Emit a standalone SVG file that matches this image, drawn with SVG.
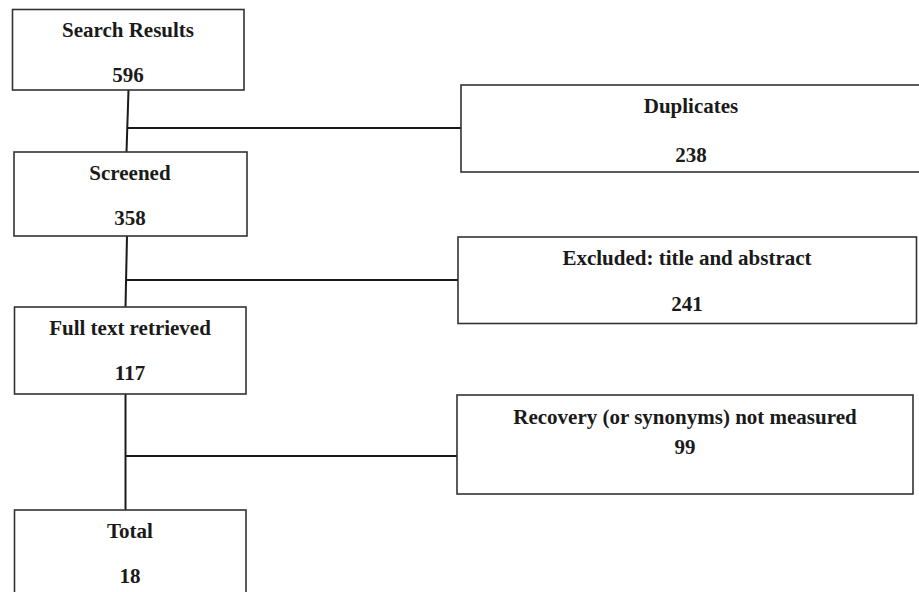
<svg xmlns="http://www.w3.org/2000/svg" width="919" height="592" viewBox="0 0 919 592">
<style>
.box{fill:#fff;stroke:#333;stroke-width:1.6}
.t{font-family:"Liberation Serif","Times New Roman",serif;font-weight:bold;font-size:21px;fill:#1a1a1a;text-anchor:middle}
.c{stroke:#1a1a1a;stroke-width:2;fill:none}
</style>
<rect width="919" height="592" fill="#fff"/>
<g id="connectors">
<line class="c" x1="128.5" y1="90" x2="126.5" y2="152"/>
<line class="c" x1="128" y1="128" x2="461" y2="128"/>
<line class="c" x1="127" y1="236" x2="125.5" y2="307"/>
<line class="c" x1="126.5" y1="280" x2="458" y2="280"/>
<line class="c" x1="125.5" y1="394" x2="125.5" y2="510"/>
<line class="c" x1="125.5" y1="456" x2="457" y2="456"/>
</g>
<g id="search">
<rect class="box" x="12.5" y="9.5" width="231.5" height="80.5"/>
<text class="t" x="128" y="37">Search Results</text>
<text class="t" x="128" y="82">596</text>
</g>
<g id="duplicates">
<rect class="box" x="461" y="85" width="470" height="87"/>
<text class="t" x="691" y="113">Duplicates</text>
<text class="t" x="691" y="162">238</text>
</g>
<g id="screened">
<rect class="box" x="14" y="152" width="233" height="84"/>
<text class="t" x="130" y="180">Screened</text>
<text class="t" x="130" y="225">358</text>
</g>
<g id="excluded">
<rect class="box" x="458" y="237" width="458.5" height="86.5"/>
<text class="t" x="687" y="265">Excluded: title and abstract</text>
<text class="t" x="687" y="311">241</text>
</g>
<g id="fulltext">
<rect class="box" x="14.5" y="307" width="231.5" height="87"/>
<text class="t" x="130" y="335">Full text retrieved</text>
<text class="t" x="130" y="380">117</text>
</g>
<g id="recovery">
<rect class="box" x="457" y="395" width="456" height="99"/>
<text class="t" x="685" y="424">Recovery (or synonyms) not measured</text>
<text class="t" x="685" y="454">99</text>
</g>
<g id="total">
<rect class="box" x="14.5" y="510" width="231.5" height="100"/>
<text class="t" x="130" y="538">Total</text>
<text class="t" x="130" y="583">18</text>
</g>
</svg>
